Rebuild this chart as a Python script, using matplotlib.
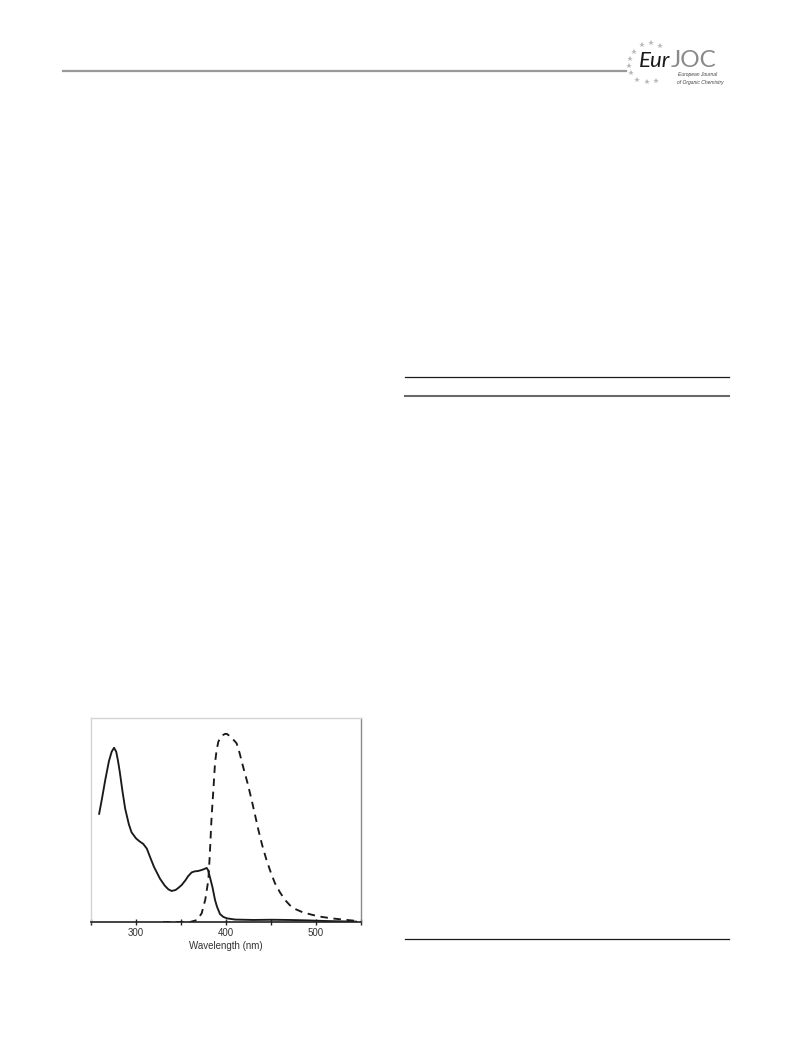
import numpy as np
import matplotlib
matplotlib.use("Agg")
import matplotlib.pyplot as plt
from matplotlib.lines import Line2D

plt.rcParams['font.family'] = ['Liberation Sans', 'DejaVu Sans']

# ---- data ----
abs_wl = [259, 262, 266, 270, 273, 275.6, 278, 280, 282, 285, 288, 292, 295, 300, 304, 308, 312,
          315.5, 320, 326.7, 332, 336, 339.6, 344, 347, 350.7, 355, 358, 361.8, 365, 369,
          373, 376, 378.5, 380, 382, 385, 387.8, 390, 393.3, 397, 401, 410, 430, 450, 470,
          490, 510, 530, 545]
abs_val = [0.529, 0.60, 0.70, 0.79, 0.835, 0.854, 0.835, 0.79, 0.735, 0.64, 0.555, 0.48, 0.44,
           0.41, 0.395, 0.383, 0.36, 0.32, 0.27, 0.212, 0.178, 0.16, 0.152, 0.157, 0.167, 0.181,
           0.205, 0.225, 0.243, 0.248, 0.25, 0.255, 0.26, 0.265, 0.255, 0.222, 0.17, 0.108,
           0.075, 0.039, 0.025, 0.018, 0.012, 0.010, 0.011, 0.010, 0.008, 0.005, 0.003, 0.002]

em_wl = [330, 360, 368, 373, 377, 380.4, 382, 384, 386, 387.8, 389.5, 391.5, 394, 396, 398.9,
         401, 403, 406, 409, 411.8, 415, 419, 424, 428.5, 432, 436, 440, 445, 450, 454.4,
         460, 465.6, 471, 476.7, 485, 495, 505, 517, 530, 541, 548]
em_val = [0.0, 0.0, 0.01, 0.043, 0.11, 0.206, 0.33, 0.516, 0.65, 0.779, 0.84, 0.884, 0.905,
          0.915, 0.922, 0.922, 0.915, 0.90, 0.89, 0.876, 0.83, 0.761, 0.68, 0.598, 0.53, 0.451,
          0.38, 0.304, 0.24, 0.19, 0.145, 0.108, 0.082, 0.064, 0.048, 0.036, 0.026, 0.018,
          0.012, 0.007, 0.005]

xticks = [300, 400, 500]
minor_ticks = [250, 350, 450, 550]
xlabel = "Wavelength (nm)"

W, H = 791, 1059
fig = plt.figure(figsize=(W / 100, H / 100), dpi=100)

def fx(px):
    return px / W

def fy(py):
    return 1 - py / H

# ---- page decorations ----
fig.add_artist(Line2D([fx(63), fx(626)], [fy(70.7), fy(70.7)], color='#999999', lw=1.6))
fig.add_artist(Line2D([fx(405), fx(729)], [fy(376.7), fy(376.7)], color='#1a1a1a', lw=0.9))
fig.add_artist(Line2D([fx(405), fx(729)], [fy(395.7), fy(395.7)], color='#6a6a6a', lw=1.5))
fig.add_artist(Line2D([fx(405), fx(729)], [fy(939.3), fy(939.3)], color='#1a1a1a', lw=0.9))

# logo
star_pts = [(642, 45), (651, 43), (660, 46), (634, 52), (630, 59), (629, 66), (631, 73),
            (637, 80), (647, 82), (656, 81)]
for (sx, sy) in star_pts:
    fig.add_artist(Line2D([fx(sx)], [fy(sy)], marker='*', ms=4.2, color='#b8b8b8', mew=0, lw=0))
fig.text(fx(639), fy(67), "Eur", fontsize=16, color='#1a1a1a', style='italic',
         family=['Lato', 'DejaVu Sans'], ha='left', va='baseline')
fig.text(fx(671), fy(67), "JOC", fontsize=17.5, color='#8a8a8a',
         family=['Lato', 'DejaVu Sans'], ha='left', va='baseline')
fig.text(fx(678), fy(76), "European Journal", fontsize=3.6, color='#444444',
         ha='left', va='baseline', style='italic')
fig.text(fx(677), fy(84), "of Organic Chemistry", fontsize=3.6, color='#444444',
         ha='left', va='baseline', style='italic')

# ---- chart ----
ax = fig.add_axes([fx(91), fy(922), (361 - 91) / W, (922 - 718) / H])
ax.plot(abs_wl, abs_val, color='#1a1a1a', lw=1.35, solid_capstyle='round',
        solid_joinstyle='round')
ax.plot(em_wl, em_val, color='#1a1a1a', lw=1.35, dashes=(4, 3))
ax.set_xlim(250, 550)
ax.set_ylim(0, 1.0)
ax.set_xticks(xticks)
ax.set_xticks(minor_ticks, minor=True)
ax.set_xticklabels([str(t) for t in xticks], fontsize=7, color='#333333')
ax.tick_params(axis='x', which='both', direction='inout', length=5, width=1.0,
               color='#222222', pad=2)
ax.set_yticks([])
ax.set_xlabel(xlabel, fontsize=7, color='#333333', labelpad=2)
ax.spines['bottom'].set_color('#222222')
ax.spines['bottom'].set_linewidth(1.2)
ax.spines['top'].set_color('#d4d4d4')
ax.spines['left'].set_color('#d4d4d4')
ax.spines['right'].set_color('#8a8a8a')
for s in ['top', 'left', 'right']:
    ax.spines[s].set_linewidth(1.0)

fig.savefig("out.png", dpi=100)
